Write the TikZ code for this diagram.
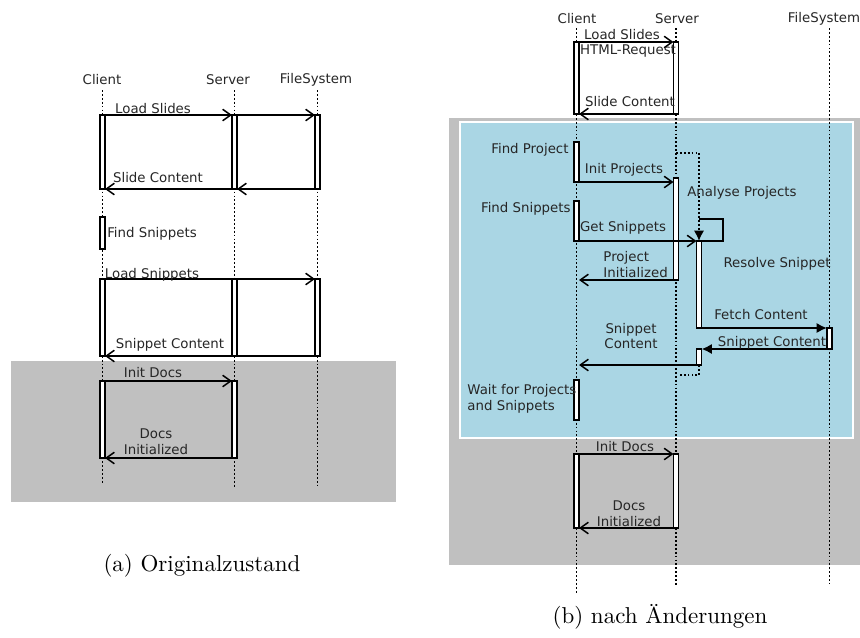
\documentclass[tikz,border=0pt]{standalone}
\usepackage{fontspec}
\usetikzlibrary{arrows.meta,positioning,calc,fit}
\newfontfamily\dejavu{DejaVu Sans}
\newcommand{\seqfont}{\dejavu\fontsize{5.8pt}{6.8pt}\selectfont}
\definecolor{bggray}{RGB}{192,192,192}
\definecolor{bgblue}{RGB}{170,214,228}

\begin{document}
\begin{tikzpicture}[
    x=0.435pt, y=-0.435pt,
    actor/.style={font=\seqfont, text=black!85, inner sep=0pt},
    lbl/.style={font=\seqfont, text=black!85, inner sep=0pt, align=center},
    captext/.style={font=\fontsize{10pt}{12pt}\selectfont, inner sep=0pt},
    life/.style={dash pattern=on 0.8pt off 0.9pt, line width=0.8pt},
    bar/.style={draw, fill=white, line width=0.5pt, inner xsep=1.1pt, inner ysep=0pt, outer sep=0pt},
    rbar/.style={bar, line width=0.8pt},
    msg/.style={-{Straight Barb[length=3.5pt,width=5pt]}, line width=0.65pt},
    msgline/.style={line width=0.65pt},
    fmsg/.style={-{Latex[length=4.5pt,width=4.5pt]}, line width=0.9pt}
]
\useasboundingbox (0,0) rectangle (860,637);

% backgrounds
\fill[bggray] (11,361) rectangle (396,502);
\fill[bggray] (449,118) rectangle (862,565);
\filldraw[fill=bgblue, draw=white, line width=0.8pt] (460,122) rectangle (853,438);

%%%% (a) original
\node[actor] (cA) at (102,80) {Client};
\node[actor] (sA) at (228,80) {Server};
\node[actor] (fA) at (316,80) {FileSystem};
\coordinate (cAtop) at (102.5,90);  \coordinate (cAend) at (102.5,484);
\coordinate (sAtop) at (234.5,90);  \coordinate (sAend) at (234.5,488);
\coordinate (fAtop) at (317.5,90);  \coordinate (fAend) at (317.5,486);
\draw[life] (cAtop) -- (cAend);
\draw[life] (sAtop) -- (sAend);
\draw[life] (fAtop) -- (fAend);

\node[bar, fit={(102.5,115) (102.5,189)}] (c1) {};
\node[bar, fit={(234.5,115) (234.5,189)}] (s1) {};
\node[bar, fit={(317.5,115) (317.5,189)}] (f1) {};
\node[bar, fit={(102.5,217) (102.5,249)}] (c2) {};
\node[bar, fit={(102.5,279) (102.5,356)}] (c3) {};
\node[bar, fit={(234.5,279) (234.5,356)}] (s3) {};
\node[bar, fit={(317.5,279) (317.5,356)}] (f3) {};
\node[bar, fit={(102.5,381) (102.5,458)}] (c4) {};
\node[bar, fit={(234.5,381) (234.5,458)}] (s4) {};

\draw[msg] (c1.north east) -- (s1.north west);
\draw[msg] (s1.north east) -- (f1.north west);
\draw[msg] (f1.south west) -- (s1.south east);
\draw[msg] (s1.south west) -- (c1.south east);
\draw[msgline] (c3.north east) -- (s3.north west);
\draw[msg] (s3.north east) -- (f3.north west);
\draw[msgline] (f3.south west) -- (s3.south east);
\draw[msg] (s3.south west) -- (c3.south east);
\draw[msg] (c4.north east) -- (s4.north west);
\draw[msg] (s4.south west) -- (c4.south east);

\node[lbl] (loadA) at (153,109) {Load Slides};
\node[lbl] (slideA) at (158,178) {Slide Content};
\node[lbl] (findA) at (152,234) {Find Snippets};
\node[lbl] (loadsA) at (152,275) {Load Snippets};
\node[lbl] (snipA) at (170,345) {Snippet Content};
\node[lbl] (initA) at (153,373) {Init Docs};
\node[lbl] (docsA) at (156,442) {Docs\\Initialized};

\node[captext] (capA) at (202,566) {(a) Originalzustand};

%%%% (b) changed
\node[actor] (cB) at (577,19) {Client};
\node[actor] (sB) at (677,19) {Server};
\node[actor] (fB) at (824,19) {FileSystem};
\coordinate (cBtop) at (576.5,28);  \coordinate (cBend) at (576.5,593);
\coordinate (sBtop) at (676,28);    \coordinate (sBend) at (676,586);
\coordinate (fBtop) at (829.5,28);  \coordinate (fBend) at (829.5,583);
\draw[life] (cBtop) -- (cBend);
\draw[life] (sBtop) -- (sBend);
\draw[life] (fBtop) -- (fBend);

\node[bar, fit={(576.5,42) (576.5,114)}] (cb1) {};
\node[bar, fit={(676,42) (676,114)}] (sb1) {};
\node[bar, fit={(576.5,142) (576.5,182)}] (cb2) {};
\node[bar, fit={(676,178) (676,280)}] (sb2) {};
\node[bar, fit={(576.5,201) (576.5,241)}] (cb3) {};
\node[bar, fit={(576.5,380) (576.5,420)}] (cb4) {};
\node[bar, fit={(576.5,454) (576.5,528)}] (cb5) {};
\node[bar, fit={(676,454) (676,528)}] (sb5) {};

% analyse / resolve
\coordinate (anaStart) at (676,153);
\coordinate (loopTL) at (699,219);
\coordinate (loopBR) at (723,241);
\coordinate (retEnd) at (678,375);
\node[rbar, fit={(699,241) (699,328)}] (rb1) {};
\node[rbar, fit={(699,349) (699,365)}] (rb2) {};
\node[rbar, fit={(829.5,328) (829.5,349)}] (fb1) {};
\draw[msgline] (loopTL) -| (loopBR) -- (rb1.north);
\draw[life, -{Latex[length=4.5pt,width=4.5pt]}] (anaStart) -| (rb1.north);
\draw[life] (rb2.south) |- (retEnd);

\draw[msg] (cb1.north east) -- (sb1.north west);
\draw[msg] (sb1.south west) -- (cb1.south east);
\draw[msg] (cb2.south east) -- (cb2.south east -| sb2.west);
\draw[msg] (cb3.south east) -- (rb1.north west);
\draw[msg] (sb2.south west) -- (sb2.south west -| cb3.east);
\draw[fmsg] (rb1.south east) -- (fb1.north west);
\draw[fmsg] (fb1.south west) -- (rb2.north east);
\draw[msg] (rb2.south west) -- (rb2.south west -| cb3.east);
\draw[msg] (cb5.north east) -- (sb5.north west);
\draw[msg] (sb5.south west) -- (cb5.south east);

\node[lbl] (loadB) at (622,35) {Load Slides};
\node[lbl] (htmlB) at (628,51) {HTML-Request};
\node[lbl] (slideB) at (630,102) {Slide Content};
\node[lbl, anchor=east] (findpB) at (569,150) {Find Project};
\node[lbl] (initpB) at (624,170) {Init Projects};
\node[lbl] (anaB) at (742,193) {Analyse Projects};
\node[lbl, anchor=east] (findsB) at (571,209) {Find Snippets};
\node[lbl] (getB) at (623,228) {Get Snippets};
\node[lbl] (resB) at (777,264) {Resolve Snippet};
\node[lbl, align=left, anchor=west] (projB) at (603,264.5) {Project\\Initialized};
\node[lbl] (fetchB) at (761,315) {Fetch Content};
\node[lbl] (snipB) at (772,343) {Snippet Content};
\node[lbl] (snip2B) at (631,336) {Snippet\\Content};
\node[lbl, align=left, anchor=west] (waitB) at (467,399) {Wait for Projects\\and Snippets};
\node[lbl] (initB) at (625,447) {Init Docs};
\node[lbl] (docsB) at (629,513.5) {Docs\\Initialized};

\node[captext] (capB) at (660,617) {(b) nach Änderungen};

\end{tikzpicture}
\end{document}
